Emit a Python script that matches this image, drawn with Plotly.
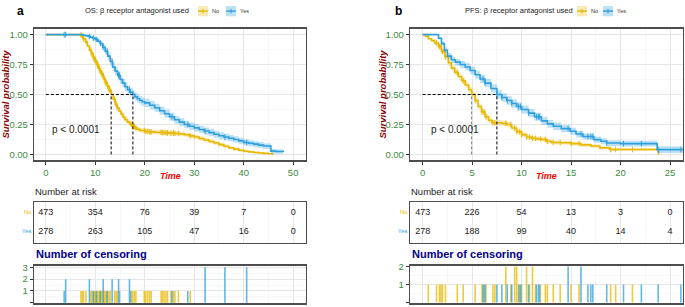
import numpy as np
import plotly.graph_objects as go

# ---------------- data ----------------
# OS curves (time, survival, CI half-width)
os_no_t = [0, 6.8, 7.2, 7.6, 8.0, 8.4, 8.8, 9.2, 9.6, 10.0, 10.4, 10.8, 11.2, 11.6, 12.0, 12.4, 12.8, 13.2, 13.6, 14.0,
           14.4, 14.8, 15.2, 15.6, 16.0, 16.5, 17.0, 17.5, 18.0, 18.5, 19.0, 20.0, 21.0, 22.0, 23.0, 24.0, 25.0, 26.0,
           27.0, 28.0, 29.0, 30.0, 31.0, 32.0, 33.0, 34.0, 35.0, 36.0, 37.0, 38.0, 39.0, 40.0, 41.0, 42.0, 43.0, 44.0,
           45.0, 45.9]
os_no_s = [1.0, 1.0, 0.985, 0.965, 0.94, 0.905, 0.87, 0.835, 0.80, 0.77, 0.735, 0.70, 0.67, 0.635, 0.60, 0.57, 0.535,
           0.50, 0.46, 0.42, 0.39, 0.36, 0.335, 0.31, 0.29, 0.27, 0.25, 0.235, 0.22, 0.21, 0.20, 0.192, 0.188, 0.185,
           0.183, 0.18, 0.178, 0.175, 0.17, 0.164, 0.155, 0.145, 0.133, 0.12, 0.108, 0.095, 0.082, 0.068, 0.055, 0.044,
           0.035, 0.027, 0.021, 0.016, 0.012, 0.009, 0.006, 0.0]
os_no_ci = [0, 0, 0.006, 0.01, 0.012, 0.014, 0.016, 0.018, 0.02, 0.021, 0.022, 0.023, 0.024, 0.024, 0.025, 0.025,
            0.025, 0.025, 0.025, 0.025, 0.024, 0.024, 0.023, 0.023, 0.022, 0.022, 0.022, 0.021, 0.021, 0.02, 0.02,
            0.02, 0.02, 0.02, 0.02, 0.02, 0.02, 0.02, 0.019, 0.019, 0.019, 0.018, 0.018, 0.017, 0.017, 0.016,
            0.016, 0.015, 0.014, 0.013, 0.012, 0.011, 0.01, 0.009, 0.008, 0.007, 0.006, 0.0]

os_yes_t = [0, 7.0, 7.5, 8.0, 8.5, 9.0, 9.5, 10.0, 10.5, 11.0, 11.5, 12.0, 12.5, 13.0, 13.5, 14.0, 14.5, 15.0, 15.5,
            16.0, 16.5, 17.0, 17.6, 18.0, 18.5, 19.0, 19.5, 20.0, 21.0, 22.0, 23.0, 24.0, 25.0, 26.0, 27.0, 28.0, 29.0,
            30.0, 31.0, 32.0, 33.0, 34.0, 35.0, 36.0, 37.0, 38.0, 39.0, 40.0, 41.0, 42.0, 43.0, 44.0, 45.5, 46.5, 48.0]
os_yes_s = [1.0, 1.0, 0.995, 0.99, 0.985, 0.978, 0.97, 0.96, 0.945, 0.925, 0.895, 0.86, 0.82, 0.775, 0.73, 0.695,
            0.66, 0.625, 0.595, 0.565, 0.54, 0.52, 0.50, 0.48, 0.465, 0.45, 0.44, 0.43, 0.41, 0.39, 0.365, 0.34, 0.315,
            0.29, 0.27, 0.25, 0.235, 0.222, 0.208, 0.195, 0.182, 0.168, 0.156, 0.145, 0.135, 0.125, 0.113, 0.10,
            0.093, 0.086, 0.078, 0.07, 0.028, 0.025, 0.02]
os_yes_ci = [0, 0, 0.005, 0.008, 0.01, 0.012, 0.014, 0.016, 0.019, 0.022, 0.025, 0.028, 0.03, 0.032, 0.033, 0.034,
             0.035, 0.035, 0.035, 0.035, 0.035, 0.035, 0.035, 0.035, 0.035, 0.035, 0.035, 0.035, 0.035, 0.034, 0.034,
             0.034, 0.033, 0.033, 0.033, 0.032, 0.032, 0.031, 0.031, 0.03, 0.03, 0.029, 0.029, 0.028, 0.028, 0.027,
             0.027, 0.026, 0.026, 0.025, 0.025, 0.024, 0.02, 0.019, 0.018]

# PFS curves
pfs_no_t = [0, 0.3, 0.6, 0.9, 1.2, 1.6, 1.9, 2.25, 2.6, 2.9, 3.25, 3.6, 3.95, 4.3, 4.65, 4.95, 5.3, 5.6, 5.95, 6.3,
            6.65, 7.0, 8.0, 8.5, 9.0, 9.5, 10.0, 10.5, 11.0, 11.5, 12.0, 12.5, 13.0, 14.0, 15.0, 16.0, 17.0, 17.9,
            18.9, 20.0, 23.8, 23.85]
pfs_no_s = [1.0, 0.985, 0.965, 0.95, 0.93, 0.90, 0.86, 0.815, 0.765, 0.72, 0.685, 0.65, 0.615, 0.58, 0.54, 0.50,
            0.45, 0.40, 0.355, 0.315, 0.285, 0.265, 0.26, 0.25, 0.22, 0.19, 0.165, 0.145, 0.135, 0.13, 0.125, 0.11,
            0.10, 0.097, 0.09, 0.08, 0.07, 0.055, 0.041, 0.041, 0.041, 0.0]
pfs_no_ci = [0, 0.006, 0.009, 0.012, 0.014, 0.017, 0.02, 0.022, 0.024, 0.025, 0.026, 0.027, 0.027, 0.027, 0.027,
             0.027, 0.027, 0.026, 0.026, 0.025, 0.024, 0.023, 0.023, 0.023, 0.022, 0.021, 0.02, 0.019, 0.018, 0.018,
             0.018, 0.017, 0.017, 0.017, 0.016, 0.016, 0.015, 0.014, 0.013, 0.013, 0.013, 0.0]

pfs_yes_t = [0, 1.3, 1.6, 1.9, 2.2, 2.5, 2.9, 3.3, 3.8, 4.3, 4.8, 5.3, 5.8, 6.3, 6.9, 7.5, 8.0, 8.5, 9.0, 9.5, 10.0,
             10.7, 11.3, 12.0, 12.6, 13.2, 14.0, 14.9, 15.5, 16.2, 17.3, 18.0, 18.6, 20.0, 23.7, 26.3]
pfs_yes_s = [1.0, 1.0, 0.97, 0.925, 0.87, 0.82, 0.79, 0.77, 0.75, 0.73, 0.70, 0.665, 0.63, 0.595, 0.55, 0.50, 0.475,
             0.45, 0.425, 0.40, 0.375, 0.345, 0.315, 0.28, 0.255, 0.235, 0.215, 0.193, 0.17, 0.15, 0.124, 0.11,
             0.095, 0.09, 0.04, 0.04]
pfs_yes_ci = [0, 0, 0.011, 0.017, 0.022, 0.026, 0.028, 0.029, 0.03, 0.031, 0.032, 0.033, 0.034, 0.034, 0.035, 0.035,
              0.035, 0.035, 0.035, 0.035, 0.034, 0.034, 0.033, 0.033, 0.032, 0.031, 0.03, 0.029, 0.028, 0.027, 0.026,
              0.025, 0.024, 0.024, 0.028, 0.028]

# medians
os_median = [13.2, 17.6]
pfs_median = [4.95, 7.5]

# censoring (time, count)
os_cens_no_t = [7.1, 7.4, 7.6, 8.1, 9.1, 9.3, 9.5, 9.7, 9.9, 10.1, 10.3, 10.5, 10.7, 10.9, 11.1, 11.3, 11.5, 11.8,
                12.0, 12.2, 12.5, 12.8, 13.0, 13.9, 14.2, 14.4, 17.3, 17.6, 17.9, 18.2, 19.9, 20.2, 20.6, 21.0, 21.3,
                23.3, 23.6, 23.9, 24.3, 24.6, 25.3, 25.8, 26.1, 26.8, 29.2]
os_cens_no_n = [1] * 45
os_cens_yes_t = [3.7, 4.0, 8.8, 9.6, 10.2, 11.0, 11.6, 12.4, 13.4, 14.7, 14.9, 16.9, 17.1, 25.5, 28.7, 32.2, 36.2, 40.6]
os_cens_yes_n = [1, 2, 2, 1, 1, 1, 2, 1, 2, 2, 1, 2, 1, 1, 1, 3, 3, 3]

pfs_cens_no_t = [0.57, 1.4, 1.7, 1.85, 2.0, 2.3, 3.5, 4.1, 5.3, 6.0, 6.2, 6.4, 7.1, 7.3, 8.4, 8.9, 9.3, 9.5, 9.8,
                 10.0, 10.5, 10.8, 11.1, 11.4, 11.9, 12.4, 12.6, 13.2, 13.9, 15.0, 15.8, 19.0, 19.5, 21.2]
pfs_cens_no_n = [1, 1, 1, 1, 1, 1, 1, 1, 1, 1, 1, 1, 1, 1, 2, 1, 2, 2, 1, 1, 2, 1, 2, 1, 1, 1, 1, 1, 1, 1, 1, 1, 1, 1]
pfs_cens_yes_t = [6.1, 6.3, 7.5, 8.0, 8.55, 9.0, 9.7, 9.9, 10.7, 11.5, 11.7, 11.8, 14.7, 16.0, 16.7, 17.0, 17.2,
                  18.6, 20.3, 22.1, 23.8, 26.1]
pfs_cens_yes_n = [1, 1, 1, 1, 1, 1, 1, 1, 1, 1, 1, 1, 2, 2, 1, 1, 1, 1, 1, 1, 1, 1]

# number at risk
os_risk_times = [0, 10, 20, 30, 40, 50]
os_risk_no = [473, 354, 76, 39, 7, 0]
os_risk_yes = [278, 263, 105, 47, 16, 0]
pfs_risk_times = [0, 5, 10, 15, 20, 25]
pfs_risk_no = [473, 226, 54, 13, 3, 0]
pfs_risk_yes = [278, 188, 99, 40, 14, 4]

groups = ['No', 'Yes']

# ---------------- style ----------------
YELLOW = '#E7B800'
BLUE = '#2E9FDF'
YELLOW_BAND = 'rgba(231,184,0,0.28)'
BLUE_BAND = 'rgba(46,159,223,0.32)'
GREEN = '#3D8B3D'
DARKRED = '#8B0000'
NAVY = '#00008B'
FONT = 'Liberation Sans, Arial, sans-serif'
BORDER = '#4D4D4D'
GRID = '#E6E6E6'
GRID_MINOR = '#F3F3F3'

W, H = 685, 307
def px(x):
    return x / W
def py(y):
    return 1 - y / H

LEFT_DOM = [px(34), px(306)]
RIGHT_DOM = [px(410), px(683)]
KM_DOM = [py(158), py(24)]
RISK_DOM = [py(241.7), py(200)]
CENS_DOM = [py(303.3), py(265)]

fig = go.Figure()


def add_km(t, s, ci, cens_t, color, band, xa, ya):
    t = np.asarray(t, float)
    s = np.asarray(s, float)
    ci = np.asarray(ci, float)
    assert len(t) == len(s) == len(ci), (len(t), len(s), len(ci))
    lo = np.clip(s - ci, 0, 1)
    hi = np.clip(s + ci, 0, 1)
    common = dict(xaxis=xa, yaxis=ya, showlegend=False, hoverinfo='skip')
    fig.add_trace(go.Scatter(x=t, y=lo, mode='lines', line=dict(width=0, shape='hv'), **common))
    fig.add_trace(go.Scatter(x=t, y=hi, mode='lines', line=dict(width=0, shape='hv'),
                             fill='tonexty', fillcolor=band, **common))
    fig.add_trace(go.Scatter(x=t, y=s, mode='lines', line=dict(color=color, width=1.6, shape='hv'), **common))
    ct = np.asarray(cens_t, float)
    idx = np.searchsorted(t, ct, side='right') - 1
    fig.add_trace(go.Scatter(x=ct, y=s[idx], mode='markers',
                             marker=dict(symbol='line-ns-open', size=4, color=color,
                                         line=dict(color=color, width=1)),
                             **common))


def add_median(meds, xa, ya, colors):
    common = dict(xaxis=xa, yaxis=ya, showlegend=False, hoverinfo='skip', mode='lines')
    fig.add_trace(go.Scatter(x=[0, max(meds)], y=[0.5, 0.5], line=dict(color='black', width=1, dash='3px,2px'),
                             **common))
    for m, c in zip(meds, colors):
        fig.add_trace(go.Scatter(x=[m, m], y=[0, 0.5], line=dict(color=c, width=1, dash='3px,2px'), **common))


def add_risk(times, no, yes, xa, ya):
    for vals, g in ((no, 'No'), (yes, 'Yes')):
        fig.add_trace(go.Scatter(x=times, y=[g] * len(times), mode='text', text=[str(v) for v in vals],
                                 textfont=dict(size=9, color='#1a1a1a', family=FONT), textposition='middle center',
                                 xaxis=xa, yaxis=ya, showlegend=False, hoverinfo='skip', cliponaxis=False))


def add_cens(tn, nn, ty, ny, width, xa, ya):
    fig.add_trace(go.Bar(x=tn, y=nn, width=width, marker=dict(color=YELLOW, line=dict(width=0)), opacity=0.75,
                         xaxis=xa, yaxis=ya, showlegend=False, hoverinfo='skip'))
    fig.add_trace(go.Bar(x=ty, y=ny, width=width, marker=dict(color=BLUE, line=dict(width=0)), opacity=0.75,
                         xaxis=xa, yaxis=ya, showlegend=False, hoverinfo='skip'))


# left panel (OS)
add_km(os_no_t, os_no_s, os_no_ci, os_cens_no_t, YELLOW, YELLOW_BAND, 'x', 'y')
add_km(os_yes_t, os_yes_s, os_yes_ci, os_cens_yes_t, BLUE, BLUE_BAND, 'x', 'y')
add_median(os_median, 'x', 'y', ['black', 'black'])
add_risk(os_risk_times, os_risk_no, os_risk_yes, 'x2', 'y2')
add_cens(os_cens_no_t, os_cens_no_n, os_cens_yes_t, os_cens_yes_n, 0.32, 'x3', 'y3')

# right panel (PFS)
add_km(pfs_no_t, pfs_no_s, pfs_no_ci, pfs_cens_no_t, YELLOW, YELLOW_BAND, 'x4', 'y4')
add_km(pfs_yes_t, pfs_yes_s, pfs_yes_ci, pfs_cens_yes_t, BLUE, BLUE_BAND, 'x4', 'y4')
add_median(pfs_median, 'x4', 'y4', ['#777777', 'black'])
add_risk(pfs_risk_times, pfs_risk_no, pfs_risk_yes, 'x5', 'y5')
add_cens(pfs_cens_no_t, pfs_cens_no_n, pfs_cens_yes_t, pfs_cens_yes_n, 0.16, 'x6', 'y6')

# ---------------- axes ----------------
def box(**kw):
    d = dict(showline=True, linecolor=BORDER, linewidth=1.2, mirror=True, zeroline=False,
             gridcolor=GRID, gridwidth=1, showgrid=True)
    d.update(kw)
    return d

tickfont = dict(size=9.5, color=GREEN, family=FONT)

for name, dom, rng, dt, anchor, labels in [
    ('xaxis', LEFT_DOM, [-2.4, 52.6], 10, 'y', True),
    ('xaxis2', LEFT_DOM, [-2.4, 52.6], 10, 'y2', False),
    ('xaxis3', LEFT_DOM, [-2.4, 52.6], 10, 'y3', False),
    ('xaxis4', RIGHT_DOM, [-1.28, 26.31], 5, 'y4', True),
    ('xaxis5', RIGHT_DOM, [-1.28, 26.31], 5, 'y5', False),
    ('xaxis6', RIGHT_DOM, [-1.28, 26.31], 5, 'y6', False),
]:
    fig.layout[name] = box(domain=dom, range=rng, anchor=anchor, tick0=0, dtick=dt,
                           showticklabels=labels, tickfont=tickfont,
                           ticks='outside' if labels else '', ticklen=3, tickcolor='#333', tickwidth=1,
                           minor=dict(dtick=dt / 2, showgrid=True, gridcolor=GRID_MINOR, gridwidth=0.7))

for name, anchor in [('yaxis', 'x'), ('yaxis4', 'x4')]:
    fig.layout[name] = box(domain=KM_DOM, range=[-0.05, 1.05], anchor=anchor, tickmode='array',
                           tickvals=[0, 0.25, 0.5, 0.75, 1.0], ticktext=['0.00', '0.25', '0.50', '0.75', '1.00'],
                           tickfont=tickfont, ticks='outside', ticklen=3, tickcolor='#333', tickwidth=1,
                           minor=dict(tickvals=[0.125, 0.375, 0.625, 0.875], showgrid=True,
                                      gridcolor=GRID_MINOR, gridwidth=0.7))

risk_ticktext = ['<span style="color:%s">Yes</span>' % BLUE, '<span style="color:%s">No</span>' % YELLOW]
for name, anchor in [('yaxis2', 'x2'), ('yaxis5', 'x5')]:
    fig.layout[name] = box(domain=RISK_DOM, anchor=anchor, type='category', categoryorder='array',
                           categoryarray=['Yes', 'No'], range=[-0.605, 1.555], showgrid=False,
                           tickmode='array', tickvals=[0, 1], ticktext=risk_ticktext,
                           tickfont=dict(size=6, family=FONT), ticks='')

fig.layout['yaxis3'] = box(domain=CENS_DOM, anchor='x3', range=[-0.05, 3.14], tickmode='array',
                           tickvals=[0, 1, 2, 3], tickfont=tickfont, ticks='outside', ticklen=3,
                           tickcolor='#333', minor=dict(tickvals=[0.5, 1.5, 2.5], showgrid=True,
                                                        gridcolor=GRID_MINOR, gridwidth=0.7))
fig.layout['yaxis6'] = box(domain=CENS_DOM, anchor='x6', range=[-0.05, 2.05], tickmode='array',
                           tickvals=[0, 1, 2], tickfont=tickfont, ticks='outside', ticklen=3,
                           tickcolor='#333', minor=dict(tickvals=[0.5, 1.5], showgrid=True,
                                                        gridcolor=GRID_MINOR, gridwidth=0.7))

# ---------------- annotations ----------------
ann = []
shapes = []

def text(x, y, s, size, color='#1a1a1a', xanchor='left', angle=0, xref='paper', yref='paper'):
    ann.append(dict(x=x, y=y, xref=xref, yref=yref, text=s, showarrow=False, xanchor=xanchor, yanchor='middle',
                    textangle=angle, font=dict(size=size, color=color, family=FONT)))

for (lab, labx, ttl, ttlx, keyx, ytx, timex, xr, yr, rx) in [
    ('a', 20, 'OS: β receptor antagonist used', 83, [198, 226], 6, 170, 'x', 'y', 34),
    ('b', 398, 'PFS: β receptor antagonist used', 463, [577, 603], 383, 546.5, 'x4', 'y4', 410),
]:
    text(px(labx), py(6), '<b>%s</b>' % lab, 12, '#000', xanchor='center')
    text(px(ttlx), py(6), ttl, 7.5, '#222')
    for kx, g, col, bandc in zip(keyx, groups, [YELLOW, BLUE], [YELLOW_BAND, BLUE_BAND]):
        shapes.append(dict(type='rect', xref='paper', yref='paper', x0=px(kx), x1=px(kx + 10),
                           y0=py(11.5), y1=py(1), fillcolor=bandc, line=dict(width=0)))
        shapes.append(dict(type='line', xref='paper', yref='paper', x0=px(kx), x1=px(kx + 10),
                           y0=py(6.2), y1=py(6.2), line=dict(color=col, width=1.4)))
        shapes.append(dict(type='line', xref='paper', yref='paper', x0=px(kx + 5), x1=px(kx + 5),
                           y0=py(4), y1=py(8.5), line=dict(color=col, width=1)))
        text(px(kx + 12), py(6.2), g, 5.5, '#333')
    text(px(ytx), py(91), '<b><i>Survival probability</i></b>', 9.5, DARKRED, xanchor='center', angle=-90)
    text(px(timex), py(174), '<b><i>Time</i></b>', 9, '#FF0000', xanchor='center')
    text(px(rx - 1), py(190), 'Number at risk', 9.5, '#222')
    text(px(rx), py(253), '<b>Number of censoring</b>', 11, NAVY)
    text(0.8 if xr == 'x' else 0.64, 0.21, 'p < 0.0001', 10, '#222', xref=xr, yref=yr)

fig.update_layout(
    width=W, height=H, margin=dict(l=0, r=0, t=0, b=0),
    paper_bgcolor='white', plot_bgcolor='white',
    font=dict(family=FONT), barmode='overlay', showlegend=False,
    annotations=ann, shapes=shapes,
)

fig.write_html('out.html', config={'staticPlot': True, 'displayModeBar': False},
               post_script="document.body.style.margin='0';document.body.style.padding='0';"
                           "document.body.style.overflow='hidden';"
                           "var gd=document.getElementById('{plot_id}');"
                           "gd.style.position='fixed';gd.style.top='0px';gd.style.left='0px';")
